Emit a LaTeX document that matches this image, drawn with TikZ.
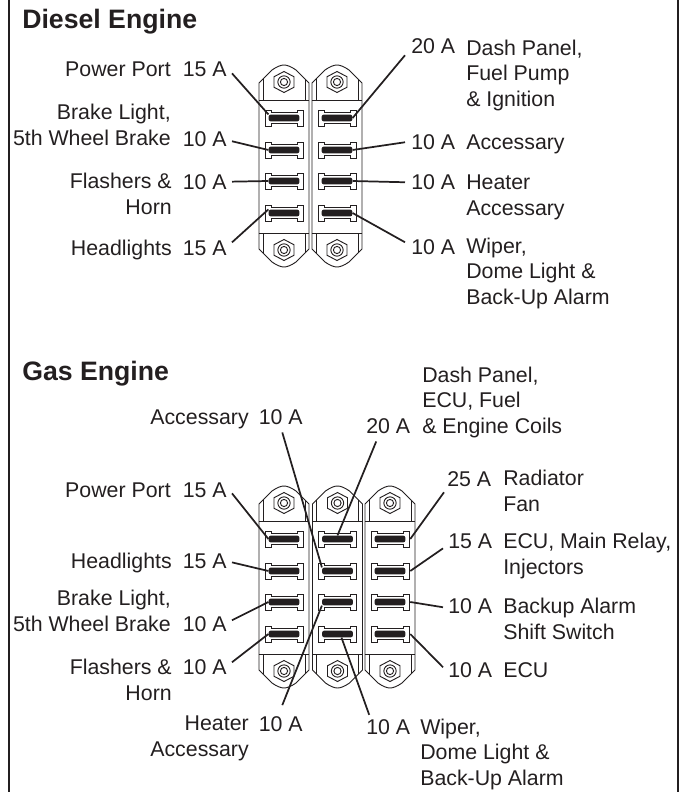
\documentclass[tikz,border=0pt]{standalone}
\usepackage{fontspec}
\setmainfont{Liberation Sans}
\usetikzlibrary{positioning}
\definecolor{ink}{HTML}{231F20}

\begin{document}
\begin{tikzpicture}[
  x=0.75pt, y=-0.75pt,
  txt/.style = {inner sep=0pt, text=ink, align=left, anchor=base west, font=\fontsize{16pt}{18.9pt}\selectfont},
  txtl/.style = {txt, align=right, anchor=base east},
  heading/.style = {inner sep=0pt, text=ink, anchor=base west, font=\fontsize{20pt}{24pt}\selectfont\bfseries},
  wire/.style = {ink, line width=1.3pt},
  part/.style = {ink, line width=0.7pt},
  fusebar/.style = {fill=ink, inner sep=0pt, minimum width=23pt, minimum height=5pt, rounded corners=1.5pt},
  fusemodule/.pic = {
    % Housing
    \draw[part] (-25,168) -- (-25,18) -- (-12,5) .. controls (-7,1.5) and (-3,0) .. (0,0)
      .. controls (3,0) and (7,1.5) .. (12,5) -- (25,18) -- (25,168);
    \draw[part] (-25,168) -- (-25,184) -- (-12,197) .. controls (-7,200.5) and (-3,202) .. (0,202)
      .. controls (3,202) and (7,200.5) .. (12,197) -- (25,184) -- (25,168);
    \draw[part] (-25,35) -- (25,35) (-25,168) -- (25,168);
    \draw[part] (-21,14) -- (-21,35) (21,14) -- (21,35) (-21,168) -- (-21,188) (21,168) -- (21,188);
    % Mounting nuts
    \foreach \ny in {17,185} {
      \draw[part, shift={(0,\ny)}] (0,-10.5) -- (10,-5.25) -- (10,5.25) -- (0,10.5) -- (-10,5.25) -- (-10,-5.25) -- cycle;
      \draw[part] (0,\ny) circle (4.6pt) (0,\ny) circle (2.7pt);
    }
    % Fuse slots
    \foreach \r/\ry in {1/53,2/85,3/116,4/148} {
      \draw[part, shift={(0,\ry)}] (-19,-8) -- (-13,-8) -- (-13,-5.5) -- (13,-5.5) -- (13,-8) -- (19,-8)
        -- (19,8) -- (13,8) -- (13,5.5) -- (-13,5.5) -- (-13,8) -- (-19,8) -- cycle;
      \node[fusebar] (-\r) at (0,\ry) {};
    }
  }
]
  \useasboundingbox (0,0) rectangle (681,792);

  % Frame
  \draw[ink, line width=1.9pt] (9,0) -- (9,792);
  \draw[ink, line width=1.9pt] (678,0) -- (678,792);

  % Diesel block
  \node[heading] (diesel) at (22,29) {Diesel Engine};
  \pic (dl) at (284,65) {fusemodule};
  \pic (dr) at (337,65) {fusemodule};

  \node[txtl] (dport) at (171,77) {Power Port};
  \node[txtl] (dbrake) at (171,145) {Brake Light,\\5th Wheel Brake};
  \node[txtl] (dflash) at (172,214) {Flashers \&\\Horn};
  \node[txtl] (dhead) at (172,255) {Headlights};
  \node[txtl] (dporta) at (227,77) {15 A};
  \node[txtl] (dbrakea) at (227,146) {10 A};
  \node[txtl] (dflasha) at (227,189) {10 A};
  \node[txtl] (dheada) at (227,255) {15 A};

  \node[txt] (ddasha) at (411,54) {20 A};
  \node[txt] (dacca) at (411,149) {10 A};
  \node[txt] (dheata) at (411,189) {10 A};
  \node[txt] (dwipea) at (411,254) {10 A};
  \node[txt] (ddash) at (466,106) {Dash Panel,\\Fuel Pump\\\& Ignition};
  \node[txt] (dacc) at (466,149) {Accessary};
  \node[txt] (dheat) at (466,215) {Heater\\Accessary};
  \node[txt] (dwipe) at (466,304) {Wiper,\\Dome Light \&\\Back-Up Alarm};

  % Diesel connections
  \draw[wire] ([shift={(5,3.6)}]dporta.east) -- (dl-1.north west);
  \draw[wire] ([shift={(5,2.6)}]dbrakea.east) -- (dl-2.west);
  \draw[wire] ([shift={(5,0)}]dflasha.east) -- (dl-3.west);
  \draw[wire] ([shift={(5,-5.4)}]dheada.east) -- (dl-4.north west);
  \draw[wire] ([shift={(-6,8.6)}]ddasha.west) -- (dr-1.east);
  \draw[wire] ([shift={(-6,0.6)}]dacca.west) -- (dr-2.east);
  \draw[wire] ([shift={(-6,0.6)}]dheata.west) -- (dr-3.east);
  \draw[wire] ([shift={(-6,-4.4)}]dwipea.west) -- (dr-4.east);

  % Gas block
  \node[heading] (gas) at (22,380) {Gas Engine};
  \pic (gl) at (284,486) {fusemodule};
  \pic (gm) at (337.5,486) {fusemodule};
  \pic (gr) at (390,486) {fusemodule};

  \node[txtl] (gacc) at (249,424) {Accessary};
  \node[txtl] (gacca) at (303,424) {10 A};
  \node[txtl] (gport) at (171,497) {Power Port};
  \node[txtl] (gporta) at (227,497) {15 A};
  \node[txtl] (ghead) at (172,568) {Headlights};
  \node[txtl] (gheada) at (227,568) {15 A};
  \node[txtl] (gbrake) at (171,631) {Brake Light,\\5th Wheel Brake};
  \node[txtl] (gbrakea) at (227,631) {10 A};
  \node[txtl] (gflash) at (172,700) {Flashers \&\\Horn};
  \node[txtl] (gflasha) at (227,674) {10 A};
  \node[txtl] (gheat) at (249,756) {Heater\\Accessary};
  \node[txtl] (gheata) at (303,731) {10 A};

  \node[txt] (gdash) at (422,433) {Dash Panel,\\ECU, Fuel\\\& Engine Coils};
  \node[txt] (gdasha) at (366,433) {20 A};
  \node[txt] (gfana) at (447,486) {25 A};
  \node[txt] (gfan) at (503,511) {Radiator\\Fan};
  \node[txt] (gecua) at (448,548) {15 A};
  \node[txt] (gecu) at (503,574) {ECU, Main Relay,\\Injectors};
  \node[txt] (galarma) at (448,613) {10 A};
  \node[txt] (galarm) at (503,639) {Backup Alarm\\Shift Switch};
  \node[txt] (gecba) at (448,677) {10 A};
  \node[txt] (gecb) at (503,677) {ECU};
  \node[txt] (gwipea) at (366,734) {10 A};
  \node[txt] (gwipe) at (420,785) {Wiper,\\Dome Light \&\\Back-Up Alarm};

  % Gas connections
  \draw[wire] ([shift={(5,3.6)}]gporta.east) -- (gl-1.west);
  \draw[wire] ([shift={(5,1.6)}]gheada.east) -- (gl-2.west);
  \draw[wire] ([shift={(5,-3.4)}]gbrakea.east) -- (gl-3.west);
  \draw[wire] ([shift={(5,-4.4)}]gflasha.east) -- (gl-4.west);
  \draw[wire] ([shift={(1.5,8)}]gacca.south) -- (gm-2.north west);
  \draw[wire] ([shift={(1.5,-10.7)}]gheata.north) -- (gm-3.south west);
  \draw[wire] ([shift={(-12,8)}]gdasha.south) -- (gm-1.north);
  \draw[wire] ([shift={(-19,-4)}]gwipea.north) -- ([xshift=3pt]gm-4.south);
  \draw[wire] ([shift={(-3,13.6)}]gfana.west) -- ([xshift=3.5pt]gr-1.east);
  \draw[wire] ([shift={(-5,7.6)}]gecua.west) -- ([xshift=3.5pt]gr-2.east);
  \draw[wire] ([shift={(-5,1.6)}]galarma.west) -- ([xshift=3.5pt]gr-3.east);
  \draw[wire] ([shift={(-5,-2.4)}]gecba.west) -- ([xshift=3.5pt]gr-4.east);

\end{tikzpicture}
\end{document}
